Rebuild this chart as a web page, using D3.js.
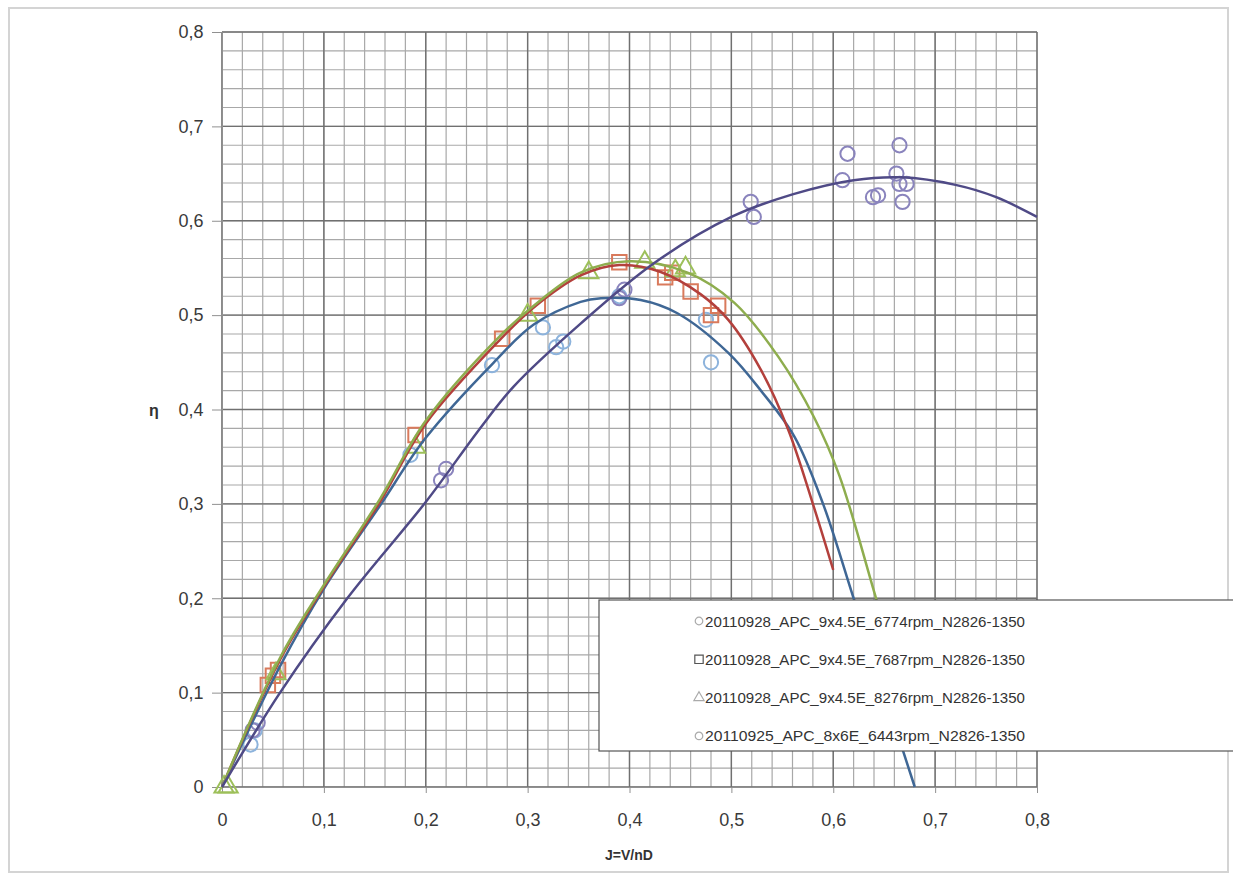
<!DOCTYPE html>
<html>
<head>
<meta charset="utf-8">
<script src="https://cdn.jsdelivr.net/npm/d3@7"></script>
<style>
  body { margin: 0; background: #fff; }
  text { font-family: "Liberation Sans", Arial, sans-serif; }
</style>
</head>
<body>
<svg id="chart" width="1233" height="878"></svg>
<script>
// series names
const seriesNames = [
  '20110928_APC_9x4.5E_6774rpm_N2826-1350',
  '20110928_APC_9x4.5E_7687rpm_N2826-1350',
  '20110928_APC_9x4.5E_8276rpm_N2826-1350',
  '20110925_APC_8x6E_6443rpm_N2826-1350'
];

// measured points [J, eta]
const pts6774 = [[0.028, 0.045], [0.032, 0.06], [0.185, 0.352], [0.265, 0.447], [0.315, 0.487],
  [0.328, 0.466], [0.335, 0.472], [0.39, 0.52], [0.475, 0.495], [0.48, 0.45]];
const pts7687 = [[0.045, 0.108], [0.05, 0.118], [0.055, 0.124], [0.19, 0.373], [0.275, 0.475],
  [0.31, 0.51], [0.39, 0.556], [0.435, 0.54], [0.442, 0.545], [0.46, 0.525], [0.48, 0.5], [0.487, 0.51]];
const pts8276 = [[0.002, 0], [0.006, 0], [0.053, 0.12], [0.19, 0.36], [0.3, 0.5], [0.36, 0.545],
  [0.415, 0.556], [0.445, 0.547], [0.455, 0.55]];
const pts6443 = [[0.03, 0.06], [0.035, 0.068], [0.215, 0.325], [0.22, 0.337], [0.39, 0.518],
  [0.395, 0.527], [0.519, 0.62], [0.522, 0.604], [0.609, 0.643], [0.614, 0.671], [0.639, 0.625],
  [0.644, 0.627], [0.662, 0.65], [0.665, 0.68], [0.665, 0.639], [0.672, 0.639], [0.668, 0.62]];

// trend curves [J, eta]
const fit6774 = [[0, 0], [0.057, 0.128], [0.1, 0.21], [0.155, 0.298], [0.2, 0.37], [0.266, 0.449],
  [0.306, 0.49], [0.352, 0.514], [0.372, 0.518], [0.411, 0.516], [0.447, 0.502], [0.497, 0.46],
  [0.529, 0.42], [0.562, 0.371], [0.59, 0.3], [0.62, 0.2], [0.65, 0.1], [0.68, 0]];
const fit7687 = [[0, 0], [0.057, 0.135], [0.1, 0.212], [0.155, 0.302], [0.2, 0.385], [0.273, 0.474],
  [0.306, 0.508], [0.352, 0.542], [0.39, 0.553], [0.43, 0.546], [0.47, 0.522], [0.497, 0.495],
  [0.529, 0.442], [0.556, 0.378], [0.58, 0.3], [0.6, 0.23]];
const fit8276 = [[0, 0], [0.057, 0.137], [0.1, 0.214], [0.155, 0.305], [0.2, 0.388], [0.273, 0.478],
  [0.306, 0.51], [0.352, 0.545], [0.4, 0.557], [0.457, 0.545], [0.503, 0.513], [0.546, 0.456],
  [0.581, 0.392], [0.606, 0.33], [0.642, 0.2], [0.675, 0.08]];
const fit6443 = [[0, 0], [0.057, 0.1], [0.123, 0.2], [0.2, 0.302], [0.254, 0.381], [0.286, 0.424],
  [0.352, 0.491], [0.424, 0.555], [0.5, 0.604], [0.56, 0.628], [0.62, 0.643], [0.667, 0.646],
  [0.72, 0.638], [0.76, 0.625], [0.8, 0.604]];

const xTicks = [0, 0.1, 0.2, 0.3, 0.4, 0.5, 0.6, 0.7, 0.8];
const yTicks = [0, 0.1, 0.2, 0.3, 0.4, 0.5, 0.6, 0.7, 0.8];

const svg = d3.select('#chart');
const x = d3.scaleLinear().domain([0, 0.8]).range([222, 1037]);
const y = d3.scaleLinear().domain([0, 0.8]).range([787, 32]);
const fmt = d => d === 0 ? '0' : d3.format('.1f')(d).replace('.', ',');

// outer frame
svg.append('rect')
  .attr('x', 9).attr('y', 8).attr('width', 1219).attr('height', 864)
  .attr('fill', 'none').attr('stroke', '#d4d4d4').attr('stroke-width', 2);

// minor grid
const minor = d3.range(0, 0.8001, 0.02);
const grid = svg.append('g');
grid.selectAll('line.mx').data(minor).join('line')
  .attr('x1', d => x(d)).attr('x2', d => x(d)).attr('y1', y(0)).attr('y2', y(0.8))
  .attr('stroke', '#a8a8a8').attr('stroke-width', 1.2);
grid.selectAll('line.my').data(minor).join('line')
  .attr('y1', d => y(d)).attr('y2', d => y(d)).attr('x1', x(0)).attr('x2', x(0.8))
  .attr('stroke', '#a8a8a8').attr('stroke-width', 1.2);

// major grid
grid.selectAll('line.Mx').data(xTicks).join('line')
  .attr('x1', d => x(d)).attr('x2', d => x(d)).attr('y1', y(0)).attr('y2', y(0.8))
  .attr('stroke', '#707070').attr('stroke-width', 1.4);
grid.selectAll('line.My').data(yTicks).join('line')
  .attr('y1', d => y(d)).attr('y2', d => y(d)).attr('x1', x(0)).attr('x2', x(0.8))
  .attr('stroke', '#707070').attr('stroke-width', 1.4);

// axes
const xAxis = svg.append('g').attr('transform', `translate(0,${y(0)})`)
  .call(d3.axisBottom(x).tickValues(xTicks).tickFormat(fmt).tickSize(6));
const yAxis = svg.append('g').attr('transform', `translate(${x(0)},0)`)
  .call(d3.axisLeft(y).tickValues(yTicks).tickFormat(fmt).tickSize(10));
[xAxis, yAxis].forEach(a => {
  a.attr('font-size', null).attr('font-family', null);
  a.selectAll('path, line').attr('stroke', '#909090');
  a.selectAll('text').style('font-size', '18px').attr('fill', '#3a3a3a');
});
xAxis.selectAll('text').attr('dy', '1.65em');
yAxis.selectAll('text').attr('dx', '-0.3em');

svg.append('text').attr('x', 629).attr('y', 860).attr('text-anchor', 'middle')
  .attr('font-size', 14).attr('font-weight', 'bold').attr('fill', '#333').text('J=V/nD');
svg.append('text').attr('x', 154).attr('y', 416).attr('text-anchor', 'middle')
  .attr('font-size', 16).attr('font-weight', 'bold').attr('fill', '#333').text('η');

const line = d3.line().x(d => x(d[0])).y(d => y(d[1])).curve(d3.curveCatmullRom);

const series = [
  { pts: pts6774, fit: fit6774, line: '#3f6795', mark: '#8db3dc', shape: d3.symbolCircle },
  { pts: pts7687, fit: fit7687, line: '#b3403c', mark: '#d97a5c', shape: d3.symbolSquare },
  { pts: pts8276, fit: fit8276, line: '#8ead4e', mark: '#9dc05a', shape: d3.symbolTriangle },
  { pts: pts6443, fit: fit6443, line: '#4f4a86', mark: '#8a84bd', shape: d3.symbolCircle }
];

const marks = svg.append('g');
series.forEach(s => {
  marks.append('g').selectAll('path').data(s.pts).join('path')
    .attr('transform', d => `translate(${x(d[0])},${y(d[1])})`)
    .attr('d', d3.symbol().type(s.shape).size(s.shape === d3.symbolSquare ? 210 : 160))
    .attr('fill', 'none').attr('stroke', s.mark).attr('stroke-width', 2);
});
series.forEach(s => {
  marks.append('path').datum(s.fit).attr('d', line)
    .attr('fill', 'none').attr('stroke', s.line).attr('stroke-width', 2.5);
});

// legend
const lg = svg.append('g').attr('transform', 'translate(599,600)');
lg.append('rect').attr('width', 640).attr('height', 151)
  .attr('fill', '#fff').attr('stroke', '#555').attr('stroke-width', 1.2);
seriesNames.forEach((name, i) => {
  const row = lg.append('g').attr('transform', `translate(0,${21 + i * 38.3})`);
  row.append('path').attr('transform', 'translate(100,0)')
    .attr('d', d3.symbol().type(series[i].shape).size(i === 1 ? 70 : 45))
    .attr('fill', 'none').attr('stroke', i === 1 ? '#555' : '#aaa').attr('stroke-width', 1.2);
  row.append('text').attr('x', 106).attr('y', 5.5).attr('font-size', 15)
    .attr('textLength', 320).attr('lengthAdjust', 'spacingAndGlyphs')
    .attr('fill', '#333').text(name);
});
</script>
</body>
</html>
